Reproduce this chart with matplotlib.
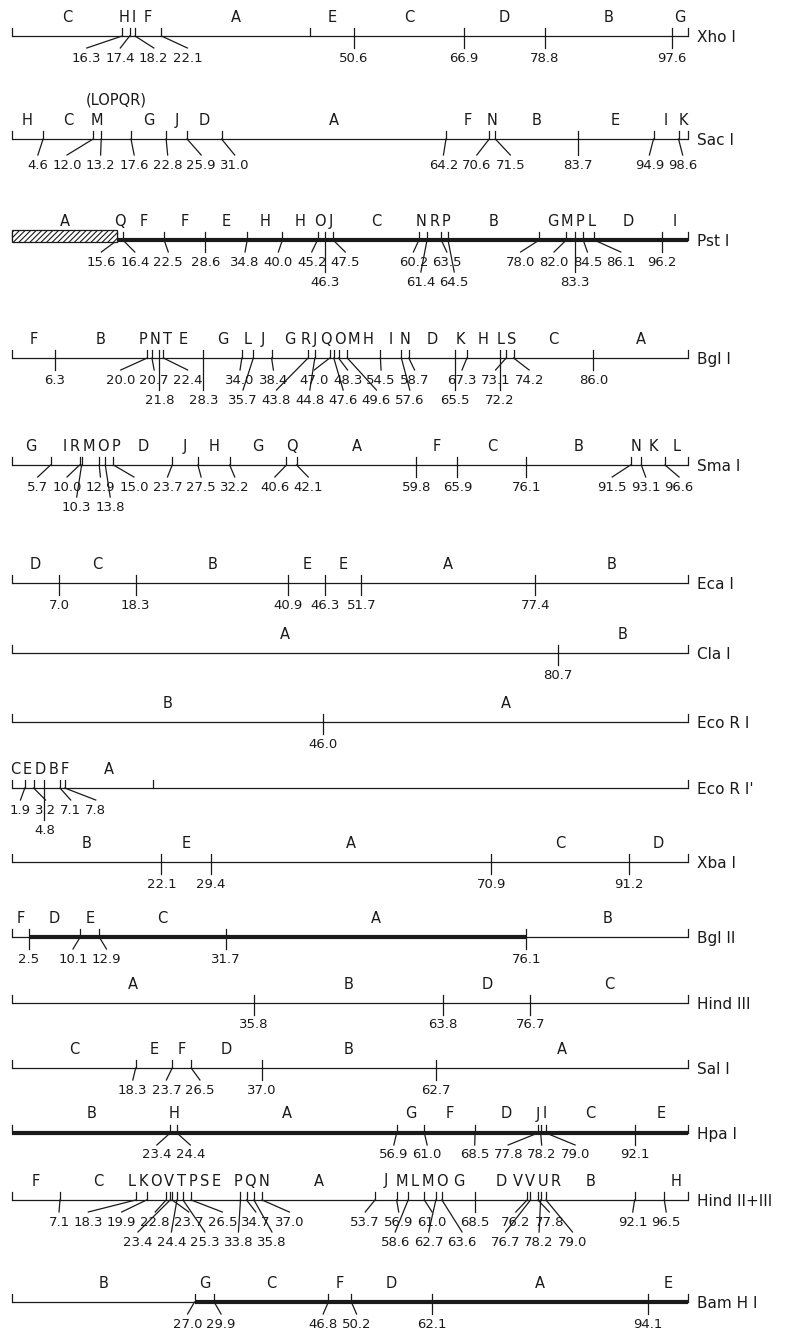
import numpy as np
import matplotlib
matplotlib.use('Agg')
import matplotlib.pyplot as plt
from matplotlib import font_manager
from matplotlib.patches import Rectangle

# --- DATA: cleavage sites (map units 0-100) and fragment letters, left to right ---
XHO_SITES = [16.3, 17.4, 18.2, 22.1, 50.6, 66.9, 78.8, 97.6]
XHO_UNMARKED = [44.1]
XHO_FRAGS = ['C', 'H', 'I', 'F', 'A', 'E', 'C', 'D', 'B', 'G']

SAC_SITES = [4.6, 12.0, 13.2, 17.6, 22.8, 25.9, 31.0, 64.2, 70.6, 71.5, 83.7, 94.9, 98.6]
SAC_FRAGS = ['H', 'C', 'M', '(LOPQR)', 'G', 'J', 'D', 'A', 'F', 'N', 'B', 'E', 'I', 'K']

PST_SITES = [15.6, 16.4, 22.5, 28.6, 34.8, 40.0, 45.2, 46.3, 47.5, 60.2, 61.4, 63.5,
             64.5, 78.0, 82.0, 83.3, 84.5, 86.1, 96.2]
PST_FRAGS = ['A', 'Q', 'F', 'F', 'E', 'H', 'H', 'O', 'J', 'C', 'N', 'R', 'P', 'B',
             'G', 'M', 'P', 'L', 'D', 'I']
PST_HATCH = (0.0, 15.6)

BGL_SITES = [6.3, 20.0, 20.7, 21.8, 22.4, 28.3, 34.0, 35.7, 38.4, 43.8, 44.8, 47.0,
             47.6, 48.3, 49.6, 54.5, 57.6, 58.7, 65.5, 67.3, 72.2, 73.1, 74.2, 86.0]
BGL_FRAGS = list('FBPNTEGLJGRJQOMHINDKHLSCA')

SMA_SITES = [5.7, 10.0, 10.3, 12.9, 13.8, 15.0, 23.7, 27.5, 32.2, 40.6, 42.1, 59.8,
             65.9, 76.1, 91.5, 93.1, 96.6]
SMA_FRAGS = list('GIRMOPDJHGQAFCBNKL')

ECA_SITES = [7.0, 18.3, 40.9, 46.3, 51.7, 77.4]
ECA_FRAGS = list('DCBEEAB')

CLA_SITES = [80.7]
CLA_FRAGS = ['A', 'B']

ECO_SITES = [46.0]
ECO_FRAGS = ['B', 'A']

ECOP_SITES = [1.9, 3.2, 4.8, 7.1, 7.8]
ECOP_UNMARKED = [20.9]
ECOP_FRAGS = ['C', 'E', 'D', 'B', 'F', 'A', '']

XBA_SITES = [22.1, 29.4, 70.9, 91.2]
XBA_FRAGS = list('BEACD')

BGL2_SITES = [2.5, 10.1, 12.9, 31.7, 76.1]
BGL2_FRAGS = list('FDECAB')
BGL2_THICK = (2.5, 76.1)

HIND3_SITES = [35.8, 63.8, 76.7]
HIND3_FRAGS = list('ABDC')

SAL_SITES = [18.3, 23.7, 26.5, 37.0, 62.7]
SAL_FRAGS = list('CEFDBA')

HPA_SITES = [23.4, 24.4, 56.9, 61.0, 68.5, 77.8, 78.2, 79.0, 92.1]
HPA_FRAGS = list('BHAGFDJICE')

HIND23_SITES = [7.1, 18.3, 19.9, 22.8, 23.4, 23.7, 24.4, 25.3, 26.5, 33.8, 34.7, 35.8,
                37.0, 53.7, 56.9, 58.6, 61.0, 62.7, 63.6, 68.5, 76.2, 76.7, 77.8, 78.2,
                79.0, 92.1, 96.5]
HIND23_FRAGS = ['F', 'C', 'L', 'K', 'O', 'V', 'T', 'P', 'S', 'E', 'P', 'Q', 'N', 'A',
                'J', 'M', 'L', 'M', 'O', 'G', 'D', 'V', 'V', 'U', 'R', 'B', '', 'H']

BAM_SITES = [27.0, 29.9, 46.8, 50.2, 62.1, 94.1]
BAM_FRAGS = list('BGCFDAE')
BAM_THICK = (27.0, 100.0)

# labels put on the second line under crowded rows
PST_LOWER = [46.3, 61.4, 64.5, 83.3]
BGL_LOWER = [21.8, 28.3, 35.7, 43.8, 44.8, 47.6, 49.6, 57.6, 65.5, 72.2]
SMA_LOWER = [10.3, 13.8]
ECOP_LOWER = [4.8]
HIND23_LOWER = [23.4, 24.4, 25.3, 33.8, 35.8, 58.6, 62.7, 63.6, 76.7, 78.2, 79.0]

# --- LAYOUT ---
ROWS = [
    dict(name='Xho I', sites=XHO_SITES, frags=XHO_FRAGS, extra=XHO_UNMARKED, y=36),
    dict(name='Sac I', sites=SAC_SITES, frags=SAC_FRAGS, y=139, drop=26),
    dict(name='Pst I', sites=PST_SITES, frags=PST_FRAGS, lower=PST_LOWER, y=240,
         thick=(0.0, 100.0), hatch=PST_HATCH),
    dict(name='Bgl I', sites=BGL_SITES, frags=BGL_FRAGS, lower=BGL_LOWER, y=358),
    dict(name='Sma I', sites=SMA_SITES, frags=SMA_FRAGS, lower=SMA_LOWER, y=465),
    dict(name='Eca I', sites=ECA_SITES, frags=ECA_FRAGS, y=583),
    dict(name='Cla I', sites=CLA_SITES, frags=CLA_FRAGS, y=653),
    dict(name='Eco R I', sites=ECO_SITES, frags=ECO_FRAGS, y=722),
    dict(name="Eco R I'", sites=ECOP_SITES, frags=ECOP_FRAGS, extra=ECOP_UNMARKED,
         lower=ECOP_LOWER, y=788),
    dict(name='Xba I', sites=XBA_SITES, frags=XBA_FRAGS, y=862),
    dict(name='Bgl II', sites=BGL2_SITES, frags=BGL2_FRAGS, y=937, thick=BGL2_THICK),
    dict(name='Hind III', sites=HIND3_SITES, frags=HIND3_FRAGS, y=1003),
    dict(name='Sal I', sites=SAL_SITES, frags=SAL_FRAGS, y=1068),
    dict(name='Hpa I', sites=HPA_SITES, frags=HPA_FRAGS, y=1133, thick=(0.0, 100.0)),
    dict(name='Hind II+III', sites=HIND23_SITES, frags=HIND23_FRAGS, lower=HIND23_LOWER,
         y=1200),
    dict(name='Bam H I', sites=BAM_SITES, frags=BAM_FRAGS, y=1302, thick=BAM_THICK),
]

INK = '#1a1a1a'
names = {f.name for f in font_manager.fontManager.ttflist}
FONT = 'Liberation Sans Narrow' if 'Liberation Sans Narrow' in names else 'DejaVu Sans'
NUM_FS = 11.5 if FONT != 'DejaVu Sans' else 9.5
LET_FS = 12.5 if FONT != 'DejaVu Sans' else 10.5
NAME_FS = 13 if FONT != 'DejaVu Sans' else 11
plt.rcParams['font.family'] = [FONT, 'DejaVu Sans']
plt.rcParams['hatch.linewidth'] = 0.8

fig = plt.figure(figsize=(8.05, 13.41), dpi=100)
ax = fig.add_axes([0, 0, 1, 1])
ax.set_xlim(-12 / 6.76, (805 - 12) / 6.76)
ax.set_ylim(1341, 0)
ax.axis('off')
renderer = fig.canvas.get_renderer()
ppu = ax.transData.transform((1, 0))[0] - ax.transData.transform((0, 0))[0]
LEFT_EDGE = -0.3  # labels may not start left of this (map units)


def spread(p, w, gap):
    # keep labels in order, at least `gap` apart, as near their targets as possible
    p = np.asarray(p, float)
    w = np.asarray(w, float)
    c = np.zeros(len(p))
    for i in range(1, len(p)):
        c[i] = c[i - 1] + (w[i - 1] + w[i]) / 2 + gap
    blocks = []
    for v in p - c:
        blocks.append([v, 1])
        while len(blocks) > 1 and blocks[-2][0] / blocks[-2][1] > blocks[-1][0] / blocks[-1][1]:
            s, n = blocks.pop()
            blocks[-1][0] += s
            blocks[-1][1] += n
    z = []
    for s, n in blocks:
        z += [s / n] * n
    z = np.maximum(np.array(z), LEFT_EDGE + w[0] / 2)
    return z + c


def texts_at(xs, y, strings, fs):
    ts = [ax.text(x, y, s, fontsize=fs, ha='center', va='center', color=INK)
          for x, s in zip(xs, strings)]
    widths = [t.get_window_extent(renderer=renderer).width / ppu for t in ts]
    return ts, widths


def draw_row(row):
    y = row['y']
    sites = row['sites']
    allsites = sorted(sites + row.get('extra', []))
    bounds = [0.0] + allsites + [100.0]
    lw = 0.9
    drop = row.get('drop', 22)

    ax.plot([0, 100], [y, y], color=INK, lw=lw, solid_capstyle='butt')
    if 'thick' in row:
        ax.plot(row['thick'], [y, y], color=INK, lw=3.0, solid_capstyle='butt')
    if 'hatch' in row:
        h0, h1 = row['hatch']
        ax.add_patch(Rectangle((h0, y - 10), h1 - h0, 12, facecolor='white',
                               edgecolor=INK, hatch='//////', lw=lw, zorder=3))
    for e in (0.0, 100.0):
        ax.plot([e, e], [y - 8, y], color=INK, lw=lw)
    for s in allsites:
        ax.plot([s, s], [y - 8, y], color=INK, lw=lw)

    # fragment letters
    mids = [(a + b) / 2 for a, b in zip(bounds[:-1], bounds[1:])]
    keep = [(m, f) for m, f in zip(mids, row['frags']) if f and not f.startswith('(')]
    ts, ws = texts_at([m for m, _ in keep], y - 19, [f for _, f in keep], LET_FS)
    xs = spread([m for m, _ in keep], ws, 2.5 / ppu)
    for t, x in zip(ts, xs):
        t.set_x(x)
    for m, f in zip(mids, row['frags']):
        if f.startswith('('):
            ax.text(m, y - 39, f, fontsize=LET_FS, ha='center', va='center', color=INK)

    # site labels with leaders
    lower = row.get('lower', [])
    for tier, ty in ((sorted(set(sites) - set(lower)), y + drop), (sorted(lower), y + drop + 20)):
        if not tier:
            continue
        ts, ws = texts_at(tier, ty, ['%.1f' % s for s in tier], NUM_FS)
        xs = spread(tier, ws, 4.0 / ppu)
        for t, x, s in zip(ts, xs, tier):
            t.set_x(x)
            ax.plot([s, x], [y, ty - 10], color=INK, lw=lw)

    ax.text(101.3, y + 1, row['name'], fontsize=NAME_FS, ha='left', va='center', color=INK)


for row in ROWS:
    draw_row(row)

fig.savefig('out.png', dpi=100, facecolor='white')
